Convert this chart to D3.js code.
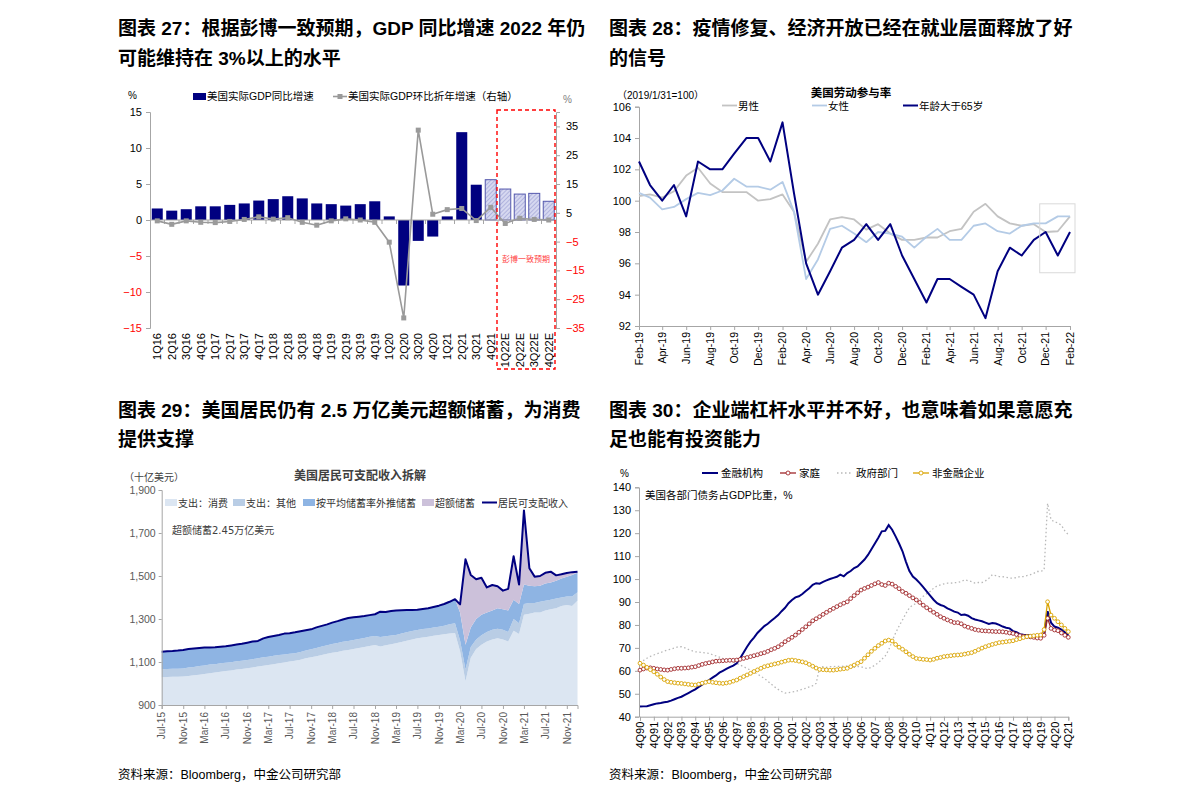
<!DOCTYPE html>
<html>
<head>
<meta charset="utf-8">
<script src="https://cdn.jsdelivr.net/npm/d3@7"></script>
<style>
  body { margin: 0; background: #fff; }
  svg { display: block; font-family: "Liberation Sans", Arial, "Noto Sans CJK SC", sans-serif; }
</style>
</head>
<body>
<svg id="page" width="1190" height="802"></svg>
<script>
// ---------- data: chart 27 (GDP) ----------
const gdpQuarters = ["1Q16","2Q16","3Q16","4Q16","1Q17","2Q17","3Q17","4Q17","1Q18","2Q18","3Q18","4Q18",
  "1Q19","2Q19","3Q19","4Q19","1Q20","2Q20","3Q20","4Q20","1Q21","2Q21","3Q21","4Q21","1Q22E","2Q22E","3Q22E","4Q22E"];
const gdpYoY = [1.6,1.3,1.5,1.9,1.9,2.1,2.3,2.7,2.9,3.3,3.0,2.3,2.2,2.0,2.2,2.6,0.5,-9.1,-2.9,-2.3,0.5,12.2,4.9,5.6,4.3,3.6,3.7,2.6];
const gdpQoQ = [2.2,1.0,2.2,1.7,1.6,2.0,2.7,3.6,2.8,3.3,1.7,0.7,2.2,2.9,2.5,1.7,-5.2,-31.5,33.7,4.5,6.1,6.5,2.3,6.9,1.3,3.1,2.7,2.5];
const gdpHatched = ["4Q21","1Q22E","2Q22E","3Q22E","4Q22E"];
const gdpForecast = ["1Q22E","2Q22E","3Q22E","4Q22E"];
const gdpLeftTicks = [15,10,5,0,-5,-10,-15];
const gdpRightTicks = [35,25,15,5,-5,-15,-25,-35];

// ---------- data: chart 28 (labour participation, Feb-19 .. Feb-22) ----------
const lfprMen = [100.3,100.4,100.2,100.6,101.6,102.1,101.1,100.55,100.55,100.55,100.0,100.1,100.4,99.3,96.1,97.25,98.8,98.95,98.8,98.15,98.5,97.9,97.5,97.5,97.65,97.65,98.05,98.2,99.3,99.8,99.0,98.55,98.4,98.5,98.0,98.05,99.0];
const lfprWomen = [100.5,100.2,99.45,99.6,100.1,100.5,100.35,100.65,101.4,100.9,100.9,100.7,101.2,99.3,95.0,96.25,98.2,98.4,97.9,97.35,98.0,97.9,97.7,97.0,97.7,98.2,97.5,97.5,98.4,98.55,98.05,97.9,98.4,98.55,98.55,99.0,99.0];
const lfprOver65 = [102.5,101.0,100.0,101.0,99.0,102.5,102.0,102.0,103.0,104.0,104.0,102.5,105.0,100.5,96.0,94.0,95.5,97.0,97.5,98.5,97.5,98.5,96.5,95.0,93.5,95.0,95.0,94.5,94.0,92.5,95.5,97.0,96.5,97.5,98.0,96.5,98.0];
const lfprNames = ["男性","女性","年龄大于65岁"];

// ---------- data: chart 29 (disposable income, Jul-15 .. Jan-22, bn USD) ----------
const spendConsumption = [1029,1030,1031,1031, 1032,1035,1038,1041, 1044,1048,1051,1055, 1058,1061,1065,1068,
  1071,1075,1079,1083, 1086,1090,1094,1098, 1102,1106,1111,1117, 1122,1127,1133,1138, 1143,1147,1152,1156,
  1160,1165,1170,1175, 1179,1172,1178,1183, 1187,1193,1199,1205, 1210,1214,1218,1222, 1226,1229,1233,1235,
  1150,1010,1120,1160, 1180,1195,1205,1210, 1205,1195,1245,1230, 1320,1325,1330,1330, 1340,1345,1350,1360, 1365,1360,1385];
const spendOther = [37,37,38,38, 38,39,39,40, 40,40,39,39, 39,38,38,38, 38,38,39,39, 39,39,38,37, 36,35,36,36,
  37,38,39,40, 41,41,42,42, 42,42,42,42, 42,44,42,40, 39,39,39,39, 39,39,38,38, 38,40,43,45,
  50,55,50,45, 45,45,45,45, 45,45,55,50, 50,50,45,50, 45,45,45,40, 40,45,40];
const excessSaving = [0,0,0,0, 0,0,0,0, 0,0,0,0, 0,0,0,0, 0,0,0,0, 0,0,0,0, 0,0,0,0, 0,0,0,0, 0,0,0,0,
  0,0,0,0, 0,0,0,0, 0,0,0,0, 0,0,0,0, 0,0,0,0,
  38,398,245,185, 172,117,118,102, 87,100,202,90, 345,81,45,45, 50,50,25,20, 17,13,5];
const disposableIncome = [1148,1150,1151,1153, 1156,1160,1163,1165, 1167,1168,1169,1171, 1173,1177,1181,1185,
  1190,1195,1198,1210, 1216,1221,1226,1232, 1234,1238,1243,1248, 1252,1261,1268,1275, 1283,1290,1298,1305,
  1308,1311,1314,1318, 1322,1334,1333,1337, 1340,1341,1342,1342, 1343,1347,1350,1356, 1362,1370,1380,1392,
  1368,1578,1505,1485, 1492,1447,1458,1452, 1432,1440,1592,1460, 1805,1536,1497,1500, 1515,1520,1503,1508, 1514,1518,1520];
const incomeNames = ["支出：消费","支出：其他","按平均储蓄率外推储蓄","超额储蓄","居民可支配收入"];
const incomeTicks = [900,1100,1300,1500,1700,1900];

// ---------- data: chart 30 (debt / GDP, 4Q90 .. 4Q21, %) ----------
const debtFinancial = [44.4,
  44.5,44.6,45.0,45.4, 45.8,46.0,46.3,46.5, 47.0,47.6,48.2,48.7, 49.5,50.3,51.1,51.9, 53.0,54.0,55.1,56.0,
  57.0,58.0,59.2,60.0, 60.8,61.6,62.3,63.3, 65.5,68.0,70.5,72.7, 74.5,76.5,78.0,79.5, 80.5,81.8,83.0,84.3,
  86.0,87.5,89.5,90.9, 92.0,92.5,93.5,94.8, 96.0,97.5,98.2,98.0, 98.8,99.4,100.0,100.5, 101.0,101.9,101.2,102.6,
  103.5,104.8,105.5,107.0, 108.5,110.5,113.0,115.5, 118.0,120.8,121.0,123.5, 121.5,118.6,115.5,112.1,
  107.5,103.5,101.1,99.8, 98.2,96.5,94.6,92.8, 91.0,89.5,88.7,88.2, 87.2,86.6,85.8,85.4, 84.3,84.5,84.0,83.0,
  82.4,82.0,81.6,81.0, 80.4,80.8,80.6,80.0, 79.3,78.8,78.5,77.3, 76.8,76.0,75.7,75.6, 75.4,75.2,75.0,74.9,
  75.5,86.0,81.0,79.3, 78.8,78.0,76.8,75.5];
const debtHousehold = [60.3,
  60.8,61.2,61.3,61.1, 60.8,60.6,60.4,60.3, 60.6,60.9,61.1,61.1, 61.2,61.3,61.6,61.8, 62.3,62.8,63.2,63.5,
  63.9,64.2,64.3,64.4, 64.5,64.6,64.6,64.7, 65.0,65.4,65.8,66.2, 66.6,67.0,67.5,67.9, 68.5,69.2,69.8,70.5,
  71.5,72.7,73.6,74.6, 75.6,76.8,78.0,79.2, 80.5,81.8,82.7,83.6, 84.6,85.5,86.4,87.2, 88.0,88.8,89.5,90.1,
  91.5,92.8,94.0,95.2, 95.9,96.5,97.2,97.9, 98.5,97.6,97.2,98.2, 97.8,96.8,95.8,94.6,
  93.8,92.8,91.8,90.9, 89.8,88.6,87.5,86.5, 85.5,84.6,83.6,82.9, 82.2,81.6,81.0,81.0, 80.5,79.5,79.0,78.5,
  78.0,77.7,77.5,77.4, 77.3,77.2,77.1,77.1, 77.0,76.8,76.5,76.3, 75.8,75.3,75.0,74.9, 74.8,74.6,74.3,74.2,
  75.5,82.9,78.5,77.8, 77.5,76.5,75.5,74.6];
const debtGovernment = [63.3,
  64.5,65.5,66.3,66.9, 67.5,68.0,68.6,69.1, 69.5,70.0,70.5,70.5, 70.0,69.3,68.8,68.3, 68.2,68.0,67.8,67.6,
  67.0,66.5,66.0,65.4, 65.0,64.5,63.8,63.3, 62.5,61.8,61.0,60.3, 59.5,58.6,57.6,56.7, 55.5,54.2,53.0,51.9,
  51.0,50.3,50.5,50.8, 51.0,51.5,52.0,52.4, 53.0,53.5,54.5,61.5, 61.8,61.5,61.8,61.8, 62.0,61.9,62.0,62.1,
  62.0,61.5,61.8,61.8, 61.2,61.0,61.5,62.5, 63.5,65.0,66.5,69.1, 73.0,76.5,79.5,82.2,
  85.0,87.5,88.7,89.4, 91.0,92.5,93.6,94.6, 96.0,97.0,97.5,97.9, 98.2,98.2,98.4,98.5, 98.9,99.7,99.3,98.9,
  98.2,98.5,98.5,99.2, 100.3,101.9,101.5,101.1, 101.0,100.8,100.4,100.4, 100.6,101.1,101.1,101.5, 101.9,102.5,103.3,103.3,
  104.0,133.0,125.8,125.0, 124.4,123.5,121.0,119.3];
const debtCorporate = [63.3,
  62.5,61.5,60.5,59.6, 58.5,57.3,56.2,55.3, 55.0,54.8,54.6,54.5, 54.3,54.1,53.9,53.8, 54.2,54.6,55.0,55.3,
  55.0,54.8,54.6,54.5, 54.7,55.0,55.5,56.0, 56.8,57.5,58.2,58.9, 59.7,60.4,61.1,61.8, 62.2,62.6,63.0,63.3,
  63.8,64.2,64.6,64.7, 64.5,64.2,63.9,63.5, 62.8,62.0,61.2,60.6, 60.5,60.4,60.3,60.3, 60.5,60.7,60.9,61.1,
  61.8,62.5,63.3,64.0, 65.5,67.0,68.5,69.8, 71.0,72.0,73.0,73.4, 73.0,71.5,70.3,69.4,
  68.3,67.2,66.2,65.4, 65.2,65.0,64.9,64.7, 65.0,65.5,65.8,66.2, 66.4,66.6,66.8,66.9, 67.0,67.3,67.6,67.9,
  68.5,69.2,69.9,70.5, 71.0,71.5,71.9,72.3, 72.5,72.7,72.9,73.1, 73.6,74.0,74.5,74.9, 75.1,75.3,75.5,75.6,
  78.0,90.1,84.3,82.9, 81.4,80.0,78.5,77.1];
const debtNames = ["金融机构","家庭","政府部门","非金融企业"];
const debtTickLabels = d3.range(1990, 2022).map(y => "4Q" + String(y).slice(2));

// ---------- text ----------
const chartTitles = [
  { x: 118, y: [35, 65], lines: ["图表 27：根据彭博一致预期，GDP 同比增速 2022 年仍", "可能维持在 3%以上的水平"] },
  { x: 609, y: [35, 65], lines: ["图表 28：疫情修复、经济开放已经在就业层面释放了好", "的信号"] },
  { x: 118, y: [417, 446], lines: ["图表 29：美国居民仍有 2.5 万亿美元超额储蓄，为消费", "提供支撑"] },
  { x: 609, y: [417, 446], lines: ["图表 30：企业端杠杆水平并不好，也意味着如果意愿充", "足也能有投资能力"] }
];
const sourceText = "资料来源：Bloomberg，中金公司研究部";

const svg = d3.select("#page");
svg.append("rect").attr("width", 1190).attr("height", 802).attr("fill", "#fff");

chartTitles.forEach(t => {
  t.lines.forEach((line, i) => {
    svg.append("text").attr("x", t.x).attr("y", t.y[i])
      .attr("font-size", 19).attr("font-weight", "bold").attr("fill", "#000")
      .text(line);
  });
});
[118, 609].forEach(x => {
  svg.append("text").attr("x", x).attr("y", 779).attr("font-size", 12.5).attr("fill", "#000").text(sourceText);
});

const axisGrey = "#a6a6a6";
function greyAxis(g) {
  g.select(".domain").attr("stroke", axisGrey);
  g.selectAll(".tick line").attr("stroke", axisGrey);
}

// ================= chart 27 =================
(function () {
  const g = svg.append("g");
  const x = d3.scaleBand().domain(gdpQuarters).range([150, 556]).paddingInner(0.24).paddingOuter(0.12);
  const yL = d3.scaleLinear().domain([-15, 15]).range([328, 112]);
  const yR = d3.scaleLinear().domain([-35, 40]).range([328, 112]);

  const defs = svg.append("defs");
  const pat = defs.append("pattern").attr("id", "hatch").attr("patternUnits", "userSpaceOnUse")
    .attr("width", 3).attr("height", 3).attr("patternTransform", "rotate(45)");
  pat.append("rect").attr("width", 3).attr("height", 3).attr("fill", "#d6d8f0");
  pat.append("line").attr("x1", 0).attr("y1", 0).attr("x2", 0).attr("y2", 3)
    .attr("stroke", "#9396cf").attr("stroke-width", 1.1);

  // left axis
  const la = g.append("g").attr("transform", "translate(150,0)")
    .call(d3.axisLeft(yL).tickValues(gdpLeftTicks).tickSize(4).tickPadding(4));
  greyAxis(la);
  la.selectAll("text").attr("font-size", 11).attr("fill", d => d < 0 ? "#ff0000" : "#000");

  // right axis
  const ra = g.append("g").attr("transform", "translate(556,0)")
    .call(d3.axisRight(yR).tickValues(gdpRightTicks).tickSize(4).tickPadding(6));
  greyAxis(ra);
  ra.selectAll("text").attr("font-size", 11).attr("fill", d => d < 0 ? "#ff0000" : "#000");

  g.append("text").attr("x", 128).attr("y", 99).attr("font-size", 10).text("%");
  g.append("text").attr("x", 563).attr("y", 103).attr("font-size", 10).attr("fill", "#808080").text("%");

  // bars
  g.selectAll("rect.bar").data(gdpQuarters).enter().append("rect")
    .attr("class", "bar")
    .attr("x", d => x(d))
    .attr("width", x.bandwidth())
    .attr("y", (d, i) => yL(Math.max(0, gdpYoY[i])))
    .attr("height", (d, i) => Math.abs(yL(gdpYoY[i]) - yL(0)))
    .attr("fill", d => gdpHatched.includes(d) ? "url(#hatch)" : "#000080")
    .attr("stroke", d => gdpHatched.includes(d) ? "#5458ad" : "none")
    .attr("stroke-width", 1);

  // zero axis with category ticks
  const zy = yL(0);
  g.append("line").attr("x1", 150).attr("x2", 556).attr("y1", zy).attr("y2", zy).attr("stroke", axisGrey);
  const half = x.step() * x.paddingInner() / 2;
  g.selectAll("line.ct").data(gdpQuarters.slice(1)).enter().append("line")
    .attr("x1", d => x(d) - half).attr("x2", d => x(d) - half)
    .attr("y1", zy).attr("y2", zy + 4).attr("stroke", axisGrey);

  // line on right axis
  const cx = d => x(d) + x.bandwidth() / 2;
  g.append("path").datum(gdpQuarters)
    .attr("fill", "none").attr("stroke", "#9a9a9a").attr("stroke-width", 1.6)
    .attr("d", d3.line().x(cx).y((d, i) => yR(gdpQoQ[i])));
  g.selectAll("rect.mk").data(gdpQuarters).enter().append("rect")
    .attr("x", d => cx(d) - 2.5).attr("y", (d, i) => yR(gdpQoQ[i]) - 2.5)
    .attr("width", 5).attr("height", 5).attr("fill", "#9a9a9a");

  // category labels
  g.selectAll("text.xl").data(gdpQuarters).enter().append("text")
    .attr("transform", d => `translate(${cx(d) + 4},333) rotate(-90)`)
    .attr("text-anchor", "end").attr("font-size", 11).text(d => d);

  // forecast box
  const bx0 = x(gdpForecast[0]) - half - 1;
  const bx1 = x(gdpForecast[gdpForecast.length - 1]) + x.bandwidth() + half - 1;
  g.append("rect").attr("x", bx0).attr("y", 110).attr("width", bx1 - bx0).attr("height", 259)
    .attr("fill", "none").attr("stroke", "#ff0000").attr("stroke-width", 1.4).attr("stroke-dasharray", "4,3");
  g.append("text").attr("x", (bx0 + bx1) / 2).attr("y", 262).attr("text-anchor", "middle")
    .attr("font-size", 8).attr("fill", "#ff3b3b").text("彭博一致预期");

  // legend
  g.append("rect").attr("x", 193).attr("y", 93).attr("width", 13).attr("height", 7).attr("fill", "#000080");
  g.append("text").attr("x", 207).attr("y", 100).attr("font-size", 10.5).text("美国实际GDP同比增速");
  g.append("line").attr("x1", 333).attr("x2", 347).attr("y1", 96.5).attr("y2", 96.5).attr("stroke", "#9a9a9a").attr("stroke-width", 1.6);
  g.append("rect").attr("x", 337.5).attr("y", 94).attr("width", 5).attr("height", 5).attr("fill", "#9a9a9a");
  g.append("text").attr("x", 348).attr("y", 100).attr("font-size", 10.5).text("美国实际GDP环比折年增速（右轴）");
})();

// ================= chart 28 =================
(function () {
  const g = svg.append("g");
  const start = new Date(2019, 1, 1), end = new Date(2022, 1, 1);
  const months = d3.timeMonth.range(start, d3.timeMonth.offset(end, 1));
  const x = d3.scaleTime().domain([start, end]).range([639, 1070]);
  const y = d3.scaleLinear().domain([92, 106]).range([326, 106.7]);

  const ya = g.append("g").attr("transform", "translate(639,0)")
    .call(d3.axisLeft(y).tickValues(d3.range(92, 107, 2)).tickSize(4).tickPadding(4));
  greyAxis(ya);
  ya.selectAll("text").attr("font-size", 11).attr("fill", "#000");

  const xa = g.append("g").attr("transform", "translate(0,326)")
    .call(d3.axisBottom(x).tickValues(d3.timeMonth.range(start, d3.timeMonth.offset(end, 1), 2))
      .tickSize(4).tickFormat(d3.timeFormat("%b-%y")));
  greyAxis(xa);
  xa.selectAll("text").attr("font-size", 10.5).attr("fill", "#000")
    .attr("text-anchor", "end").attr("transform", "translate(0,6) rotate(-90)").attr("dy", "0.32em")
    .attr("x", 0).attr("y", 0);

  const series = [
    { vals: lfprMen, color: "#c3c3c3", w: 1.8 },
    { vals: lfprWomen, color: "#b4cbe6", w: 1.8 },
    { vals: lfprOver65, color: "#000080", w: 2 }
  ];
  series.forEach(s => {
    g.append("path").datum(months).attr("fill", "none")
      .attr("stroke", s.color).attr("stroke-width", s.w).attr("stroke-linejoin", "round")
      .attr("d", d3.line().x(d => x(d)).y((d, i) => y(s.vals[i])));
  });

  // highlight box around latest months
  const bx0 = x(new Date(2021, 10, 16)), bx1 = x(end) + 5;
  g.append("rect").attr("x", bx0).attr("y", y(99.8)).attr("width", bx1 - bx0).attr("height", y(95.4) - y(99.8))
    .attr("fill", "none").attr("stroke", "#d9d9d9").attr("stroke-width", 1);

  g.append("text").attr("x", 851).attr("y", 97).attr("text-anchor", "middle")
    .attr("font-size", 11.5).attr("font-weight", "bold").text("美国劳动参与率");
  g.append("text").attr("x", 617).attr("y", 99).attr("font-size", 10).text("（2019/1/31=100）");

  const lx = [722, 812, 903];
  lfprNames.forEach((n, i) => {
    g.append("line").attr("x1", lx[i]).attr("x2", lx[i] + 15).attr("y1", 105.5).attr("y2", 105.5)
      .attr("stroke", series[i].color).attr("stroke-width", series[i].w);
    g.append("text").attr("x", lx[i] + 16).attr("y", 109.5).attr("font-size", 10.5).text(n);
  });
})();

// ================= chart 29 =================
(function () {
  const g = svg.append("g").attr("font-family", "'DejaVu Sans', 'Noto Sans CJK SC', sans-serif");
  const start = new Date(2015, 6, 1), end = new Date(2022, 0, 1);
  const x = d3.scaleTime().domain([start, end]).range([161.7, 577.5]);
  const y = d3.scaleLinear().domain([900, 1900]).range([705, 490]).clamp(true);

  const rows = disposableIncome.map((v, i) => ({
    date: d3.timeMonth.offset(start, i),
    consumption: spendConsumption[i],
    other: spendOther[i],
    trend: v - spendConsumption[i] - spendOther[i] - excessSaving[i],
    excess: excessSaving[i]
  }));
  const keys = ["consumption", "other", "trend", "excess"];
  const colors = ["#dce6f2", "#b9cde5", "#8eb4e3", "#ccc1da"];
  const stacked = d3.stack().keys(keys)(rows);
  const area = d3.area().x(d => x(d.data.date)).y0(d => y(Math.max(900, d[0]))).y1(d => y(d[1]));
  g.selectAll("path.band").data(stacked).enter().append("path")
    .attr("fill", (d, i) => colors[i]).attr("d", area);

  g.append("path").datum(rows).attr("fill", "none").attr("stroke", "#000080").attr("stroke-width", 2)
    .attr("stroke-linejoin", "round")
    .attr("d", d3.line().x(d => x(d.date)).y((d, i) => y(disposableIncome[i])));

  const ya = g.append("g").attr("transform", "translate(161.7,0)")
    .call(d3.axisLeft(y).tickValues(incomeTicks).tickFormat(d3.format(",")).tickSize(3).tickPadding(3));
  greyAxis(ya);
  ya.selectAll("text").attr("font-size", 10.5).attr("fill", "#595959");

  const xa = g.append("g").attr("transform", "translate(0,705)")
    .call(d3.axisBottom(x).tickValues(d3.timeMonth.range(start, d3.timeMonth.offset(end, -1), 4))
      .tickSize(4).tickFormat(d3.timeFormat("%b-%y")));
  greyAxis(xa);
  xa.selectAll("text").attr("font-size", 10).attr("fill", "#595959")
    .attr("text-anchor", "end").attr("transform", "translate(0,7) rotate(-90)").attr("dy", "0.32em")
    .attr("x", 0).attr("y", 0);

  g.append("text").attr("x", 360).attr("y", 480).attr("text-anchor", "middle")
    .attr("font-size", 12).attr("font-weight", "bold").attr("fill", "#404040").text("美国居民可支配收入拆解");
  g.append("text").attr("x", 124).attr("y", 481).attr("font-size", 10).attr("fill", "#404040").text("（十亿美元）");
  g.append("text").attr("x", 172).attr("y", 534).attr("font-size", 10).attr("fill", "#404040").text("超额储蓄2.45万亿美元");

  const lx = [165, 233, 303, 422];
  incomeNames.slice(0, 4).forEach((n, i) => {
    g.append("rect").attr("x", lx[i]).attr("y", 499).attr("width", 12).attr("height", 7).attr("fill", colors[i]);
    g.append("text").attr("x", lx[i] + 13).attr("y", 506.5).attr("font-size", 10).attr("fill", "#333").text(n);
  });
  g.append("line").attr("x1", 482).attr("x2", 497).attr("y1", 502.5).attr("y2", 502.5)
    .attr("stroke", "#000080").attr("stroke-width", 2);
  g.append("text").attr("x", 498).attr("y", 506.5).attr("font-size", 10).attr("fill", "#333").text(incomeNames[4]);
})();

// ================= chart 30 =================
(function () {
  const g = svg.append("g");
  const n = debtFinancial.length;
  const x = d3.scaleLinear().domain([0, n - 1]).range([640, 1068.3]);
  const y = d3.scaleLinear().domain([40, 140]).range([716.7, 487.3]);
  const idx = d3.range(n);

  const ya = g.append("g").attr("transform", "translate(639,0)")
    .call(d3.axisLeft(y).tickValues(d3.range(40, 141, 10)).tickSize(4).tickPadding(4));
  greyAxis(ya);
  ya.selectAll("text").attr("font-size", 11).attr("fill", "#000");

  const xa = g.append("g").attr("transform", "translate(0,716.7)")
    .call(d3.axisBottom(x).tickValues(d3.range(0, n, 4)).tickSize(4)
      .tickFormat((d, i) => debtTickLabels[i]));
  greyAxis(xa);
  xa.selectAll("text").attr("font-size", 11).attr("fill", "#000")
    .attr("text-anchor", "end").attr("transform", "translate(0,5) rotate(-90)").attr("dy", "0.32em")
    .attr("x", 0).attr("y", 0);

  const line = vals => d3.line().x(i => x(i)).y(i => y(vals[i]));
  const red = "#a0282a", gold = "#d9a300";

  g.append("path").datum(idx).attr("fill", "none").attr("stroke", "#b8b8b8").attr("stroke-width", 1.3)
    .attr("stroke-dasharray", "1.5,2.5").attr("d", line(debtGovernment));
  g.append("path").datum(idx).attr("fill", "none").attr("stroke", "#000080").attr("stroke-width", 2)
    .attr("d", line(debtFinancial));
  [[debtHousehold, red], [debtCorporate, gold]].forEach(([vals, c]) => {
    g.append("path").datum(idx).attr("fill", "none").attr("stroke", c).attr("stroke-width", 1.3)
      .attr("d", line(vals));
    g.selectAll(null).data(idx).enter().append("circle")
      .attr("cx", i => x(i)).attr("cy", i => y(vals[i])).attr("r", 1.9)
      .attr("fill", "#fff").attr("stroke", c).attr("stroke-width", 0.9);
  });

  g.append("text").attr("x", 620).attr("y", 477).attr("font-size", 10).text("%");
  g.append("text").attr("x", 645).attr("y", 499).attr("font-size", 10.5).text("美国各部门债务占GDP比重，%");

  const lx = [702, 780, 837, 913];
  const lc = ["#000080", red, "#b8b8b8", gold];
  debtNames.forEach((name, i) => {
    const l = g.append("line").attr("x1", lx[i]).attr("x2", lx[i] + 16).attr("y1", 473).attr("y2", 473)
      .attr("stroke", lc[i]).attr("stroke-width", i === 0 ? 2 : 1.3);
    if (i === 2) l.attr("stroke-dasharray", "1.5,2.5");
    if (i === 1 || i === 3) {
      g.append("circle").attr("cx", lx[i] + 8).attr("cy", 473).attr("r", 2)
        .attr("fill", "#fff").attr("stroke", lc[i]).attr("stroke-width", 0.9);
    }
    g.append("text").attr("x", lx[i] + 19).attr("y", 477).attr("font-size", 10.5).text(name);
  });
})();
</script>
</body>
</html>
